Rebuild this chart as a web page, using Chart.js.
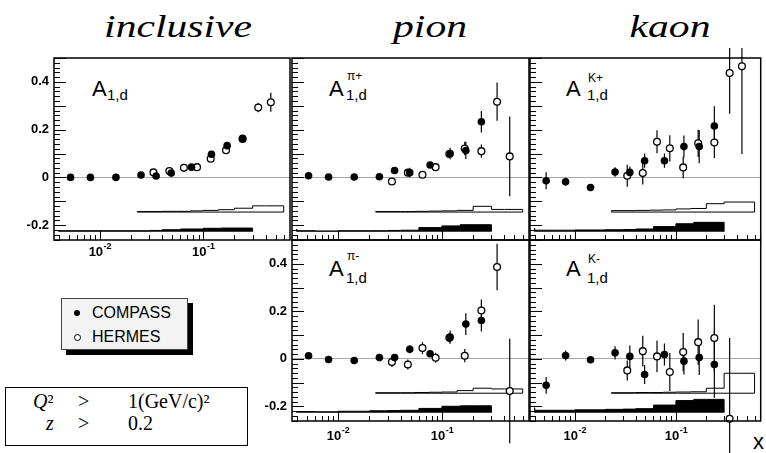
<!DOCTYPE html>
<html>
<head>
<meta charset="utf-8">
<script src="https://cdn.jsdelivr.net/npm/chart.js@4.4.1/dist/chart.umd.min.js"></script>
<style>
  html, body { margin: 0; padding: 0; background: #fff; }
  #page { position: relative; width: 766px; height: 453px; overflow: hidden; background: #fff; }
  #page canvas { position: absolute; left: 0; top: 0; }
  .t { position: absolute; white-space: nowrap; line-height: 1; color: #000; }
  .title { font: italic 32px "Liberation Serif", serif; transform: translateX(-50%) scaleX(1.3); }
  .sans { font-family: "Liberation Sans", Arial, sans-serif; }
  .serif { font-family: "Liberation Serif", serif; font-size: 20px; }
  .A { font-size: 22px; }
  .sub { font-size: 15px; }
  .sup { font-size: 12px; }
</style>
</head>
<body>
<div id="page">
  <div class="t title" style="left:178px;top:8px">inclusive</div>
  <div class="t title" style="left:430px;top:8px">pion</div>
  <div class="t title" style="left:670px;top:8px">kaon</div>

  <div class="t sans A" style="left:92px;top:78px">A</div>
  <div class="t sans sub" style="left:107px;top:87px">1,d</div>

  <div class="t sans A" style="left:329px;top:78px">A</div>
  <div class="t sans sup" style="left:347px;top:70px">π+</div>
  <div class="t sans sub" style="left:346px;top:87px">1,d</div>

  <div class="t sans A" style="left:566px;top:78px">A</div>
  <div class="t sans sup" style="left:588px;top:72px">K+</div>
  <div class="t sans sub" style="left:587px;top:87px">1,d</div>

  <div class="t sans A" style="left:329px;top:258px">A</div>
  <div class="t sans sup" style="left:347px;top:250px">π-</div>
  <div class="t sans sub" style="left:346px;top:270px">1,d</div>

  <div class="t sans A" style="left:566px;top:258px">A</div>
  <div class="t sans sup" style="left:588px;top:253px">K-</div>
  <div class="t sans sub" style="left:587px;top:270px">1,d</div>

  <div style="position:absolute;left:61px;top:298px;width:125px;height:50px;border:1px solid #444;background:#f3f3f3;box-shadow:5px 5px 0 #000"></div>
  <div style="position:absolute;left:74px;top:310px;width:6px;height:6px;border-radius:50%;background:#000"></div>
  <div style="position:absolute;left:73.5px;top:333.5px;width:5px;height:5px;border-radius:50%;border:1px solid #000;background:#fff"></div>
  <div class="t sans" style="left:92px;top:305px;font-size:16px">COMPASS</div>
  <div class="t sans" style="left:92px;top:329px;font-size:16px">HERMES</div>

  <div style="position:absolute;left:5px;top:387px;width:241px;height:57px;border:1.5px solid #000;background:#fff"></div>
  <div class="t serif" style="left:33px;top:391px"><i>Q</i>²</div>
  <div class="t serif" style="left:78px;top:391px">&gt;</div>
  <div class="t serif" style="left:128px;top:391px">1(GeV/c)²</div>
  <div class="t serif" style="left:46px;top:413px"><i>z</i></div>
  <div class="t serif" style="left:78px;top:413px">&gt;</div>
  <div class="t serif" style="left:128px;top:413px">0.2</div>

  <div class="t sans" style="left:753px;top:431px;font-size:22px">x</div>
</div>
<script>
// x positions of the bins
const xCompass = [0.0052, 0.0081, 0.0143, 0.025, 0.035, 0.049, 0.077, 0.12, 0.17, 0.24];
const xHermes = [0.033, 0.047, 0.065, 0.087, 0.118, 0.166, 0.24, 0.34, 0.45];
const xTickValues = [0.01, 0.1];
const xTickLabels = ['10^-2', '10^-1'];
const yTickValues = [-0.2, 0, 0.2, 0.4];
const yTickLabels = ['-0.2', '0', '0.2', '0.4'];

// inclusive
const compassIncl = [0.0, 0.0, 0.0, 0.01, 0.006, 0.018, 0.043, 0.097, 0.133, 0.164];
const compassInclErr = [0.003, 0.003, 0.003, 0.004, 0.004, 0.005, 0.005, 0.007, 0.008, 0.009];
const hermesIncl = [0.021, 0.027, 0.04, 0.043, 0.078, 0.114, 0.161, 0.293, 0.315];
const hermesInclErr = [0.004, 0.004, 0.004, 0.005, 0.006, 0.007, 0.009, 0.02, 0.04];

// pi+
const compassPip = [0.007, 0.002, 0.002, 0.003, 0.029, 0.02, 0.052, 0.1, 0.113, 0.233];
const compassPipErr = [0.006, 0.006, 0.006, 0.008, 0.01, 0.02, 0.014, 0.024, 0.036, 0.045];
const hermesPip = [-0.017, 0.02, 0.011, 0.043, 0.098, 0.121, 0.11, 0.317, 0.088];
const hermesPipErr = [0.012, 0.012, 0.012, 0.013, 0.018, 0.028, 0.028, 0.08, 0.167];

// pi-
const compassPim = [0.013, -0.003, -0.007, 0.005, 0.005, 0.04, 0.021, 0.091, 0.146, 0.161];
const compassPimErr = [0.006, 0.006, 0.006, 0.007, 0.01, 0.017, 0.013, 0.028, 0.046, 0.046];
const hermesPim = [-0.014, -0.024, 0.045, 0.004, 0.088, 0.013, 0.203, 0.386, -0.136];
const hermesPimErr = [0.021, 0.021, 0.025, 0.021, 0.02, 0.028, 0.046, 0.098, 0.22];

// K+
const compassKp = [-0.014, -0.018, -0.042, 0.023, 0.021, 0.07, 0.07, 0.129, 0.129, 0.215];
const compassKpErr = [0.036, 0.017, 0.01, 0.02, 0.025, 0.03, 0.03, 0.046, 0.07, 0.083];
const hermesKp = [0.007, 0.018, 0.149, 0.122, 0.042, 0.143, 0.146, 0.437, 0.465];
const hermesKpErr = [0.046, 0.048, 0.048, 0.055, 0.045, 0.057, 0.065, 0.17, 0.367];

// K-
const compassKm = [-0.112, 0.014, -0.004, 0.025, 0.01, -0.066, 0.018, -0.01, 0.005, -0.024];
const compassKmErr = [0.035, 0.021, 0.014, 0.028, 0.046, 0.04, 0.046, 0.056, 0.073, 0.14];
const hermesKm = [-0.049, 0.032, 0.01, -0.056, 0.028, 0.07, 0.087, -0.253];
const hermesKmErr = [0.042, 0.065, 0.067, 0.08, 0.08, 0.095, 0.14, 0.34];

// systematic bands (bin edges + heights above the band base)
const compassEdges = [0.004, 0.006, 0.01, 0.02, 0.03, 0.04, 0.06, 0.1, 0.15, 0.2, 0.3];
const hermesEdges = [0.023, 0.04, 0.055, 0.075, 0.1, 0.14, 0.2, 0.3, 0.4, 0.6];
const COMPASS_BASE = -0.227;
const HERMES_BASE = -0.145;
const sysCompassIncl = [0.005, 0.004, 0.004, 0.004, 0.004, 0.005, 0.008, 0.011, 0.014, 0.015];
const sysHermesIncl = [0.002, 0.002, 0.003, 0.003, 0.005, 0.007, 0.01, 0.016, 0.026];
const sysCompassPip = [0.01, 0.004, 0.003, 0.004, 0.004, 0.005, 0.006, 0.017, 0.024, 0.029];
const sysHermesPip = [0.002, 0.002, 0.002, 0.003, 0.004, 0.005, 0.007, 0.024, 0.011];
const sysCompassPim = [0.007, 0.005, 0.004, 0.006, 0.008, 0.009, 0.01, 0.018, 0.027, 0.029];
const sysHermesPim = [0.002, 0.002, 0.002, 0.003, 0.004, 0.005, 0.011, 0.021, 0.018];
const sysCompassKp = [0.014, 0.006, 0.006, 0.007, 0.008, 0.009, 0.011, 0.021, 0.033, 0.039];
const sysHermesKp = [0.003, 0.006, 0.007, 0.008, 0.009, 0.013, 0.015, 0.035, 0.042];
const sysCompassKm = [0.021, 0.01, 0.01, 0.012, 0.014, 0.015, 0.017, 0.032, 0.051, 0.056];
const sysHermesKm = [0.002, 0.002, 0.003, 0.003, 0.004, 0.005, 0.006, 0.021, 0.084];

const X_MIN = 0.0036, X_MAX = 0.69, Y_MIN = -0.262, Y_MAX = 0.5;

function pts(xs, ys) {
  return ys.map((y, i) => ({ x: xs[i], y: y }));
}

// histogram outline, stepped 'after'
function band(edges, heights, base, close) {
  const out = [{ x: edges[0], y: base }];
  heights.forEach((h, i) => out.push({ x: edges[i], y: base + h }));
  out.push({ x: edges[edges.length - 1], y: base + heights[heights.length - 1] });
  out.push({ x: edges[edges.length - 1], y: base });
  if (close) out.push({ x: edges[0], y: base });
  return out;
}

// ROOT-like frame, inner ticks, error bars and 10^n labels
const rootStyle = {
  id: 'rootStyle',
  beforeDatasetsDraw(chart) {
    const { ctx, chartArea: a, scales: { x, y } } = chart;
    ctx.save();
    ctx.beginPath();
    ctx.rect(a.left - 10, a.top - 10, a.right - a.left + 20, chart.height);
    ctx.clip();
    ctx.strokeStyle = '#000';
    ctx.lineWidth = 1.2;
    chart.data.datasets.forEach(ds => {
      if (!ds.errors) return;
      ds.data.forEach((p, i) => {
        const px = x.getPixelForValue(p.x);
        ctx.beginPath();
        ctx.moveTo(px, y.getPixelForValue(p.y - ds.errors[i]));
        ctx.lineTo(px, y.getPixelForValue(p.y + ds.errors[i]));
        ctx.stroke();
      });
    });
    ctx.restore();
  },
  afterDraw(chart, args, opts) {
    const { ctx, chartArea: a, scales: { x, y } } = chart;
    ctx.save();
    ctx.strokeStyle = '#000';
    ctx.lineWidth = 1;
    ctx.beginPath();
    for (let k = -3; k <= 0; k++) {
      for (let m = 1; m <= 9; m++) {
        const v = m * Math.pow(10, k);
        if (v < X_MIN || v > X_MAX) continue;
        const px = Math.round(x.getPixelForValue(v)) + 0.5;
        ctx.moveTo(px, a.bottom);
        ctx.lineTo(px, a.bottom - (m === 1 ? 9 : 5));
      }
    }
    for (let n = -13; n <= 25; n++) {
      const v = n * 0.02;
      if (v < Y_MIN || v > Y_MAX) continue;
      const py = Math.round(y.getPixelForValue(v)) + 0.5;
      ctx.moveTo(a.left, py);
      ctx.lineTo(a.left + (n % 5 === 0 ? 12 : 6), py);
    }
    ctx.stroke();
    ctx.lineWidth = 1.5;
    ctx.strokeRect(a.left, a.top, a.right - a.left, a.bottom - a.top);

    if (opts.labelGap) {
      const baseline = a.bottom + opts.labelGap;
      ctx.fillStyle = '#000';
      ctx.textBaseline = 'alphabetic';
      ctx.textAlign = 'left';
      xTickValues.forEach((v, i) => {
        const [mant, exp] = xTickLabels[i].split('^');
        ctx.font = 'bold 13px "Liberation Sans"';
        const w1 = ctx.measureText(mant).width;
        ctx.font = 'bold 9px "Liberation Sans"';
        const w2 = ctx.measureText(exp).width;
        const x0 = x.getPixelForValue(v) - (w1 + w2) / 2;
        ctx.fillText(exp, x0 + w1 + 0.5, baseline - 7);
        ctx.font = 'bold 13px "Liberation Sans"';
        ctx.fillText(mant, x0, baseline);
      });
    }
    ctx.restore();
  }
};

const tickFont = { family: 'Liberation Sans', size: 13, weight: 'bold' };

function makePanel(p) {
  const canvas = document.createElement('canvas');
  canvas.width = 766;
  canvas.height = 453;
  document.getElementById('page').appendChild(canvas);
  const [l, t, r, b] = p.area;
  return new Chart(canvas, {
    type: 'scatter',
    data: {
      datasets: [
        {
          label: 'COMPASS', data: pts(xCompass, p.compass), errors: p.compassErr,
          pointRadius: 3.8, pointBackgroundColor: '#000', pointBorderColor: '#000', pointBorderWidth: 0, clip: 8
        },
        {
          label: 'HERMES', data: pts(xHermes, p.hermes), errors: p.hermesErr,
          pointRadius: 3.4, pointBackgroundColor: '#fff', pointBorderColor: '#000', pointBorderWidth: 1.3, clip: 8
        },
        {
          type: 'line', label: 'COMPASS syst.', data: band(compassEdges, p.sysCompass, COMPASS_BASE, false),
          stepped: 'after', borderColor: '#000', borderWidth: 1, backgroundColor: '#000',
          fill: { value: COMPASS_BASE }, pointRadius: 0
        },
        {
          type: 'line', label: 'HERMES syst.', data: band(hermesEdges, p.sysHermes, HERMES_BASE, true),
          stepped: 'after', borderColor: '#000', borderWidth: 1, fill: false, pointRadius: 0
        }
      ]
    },
    options: {
      responsive: false,
      animation: false,
      devicePixelRatio: 1,
      layout: { padding: { left: 0, top: t, right: 766 - r, bottom: 0 } },
      plugins: {
        legend: { display: false },
        tooltip: { enabled: false },
        rootStyle: { labelGap: p.labelGap }
      },
      scales: {
        x: {
          type: 'logarithmic', min: X_MIN, max: X_MAX,
          afterFit: s => { s.height = 453 - b; },
          afterBuildTicks: s => { s.ticks = xTickValues.map(v => ({ value: v })); },
          ticks: { display: false },
          grid: { display: false },
          border: { display: false }
        },
        y: {
          min: Y_MIN, max: Y_MAX,
          afterFit: s => { s.width = l; },
          afterBuildTicks: s => { s.ticks = yTickValues.map(v => ({ value: v })); },
          ticks: {
            display: p.showY, padding: 5, color: '#000', font: tickFont,
            callback: (v, i) => yTickLabels[i]
          },
          grid: {
            drawTicks: false,
            color: c => (c.tick && c.tick.value === 0 ? '#a8a8a8' : 'rgba(0,0,0,0)'),
            lineWidth: 1
          },
          border: { display: false }
        }
      }
    },
    plugins: [rootStyle]
  });
}

const panels = [
  { area: [54, 58, 290, 240], showY: true, labelGap: 16,
    compass: compassIncl, compassErr: compassInclErr, hermes: hermesIncl, hermesErr: hermesInclErr,
    sysCompass: sysCompassIncl, sysHermes: sysHermesIncl },
  { area: [292, 58, 529, 240], showY: false, labelGap: 0,
    compass: compassPip, compassErr: compassPipErr, hermes: hermesPip, hermesErr: hermesPipErr,
    sysCompass: sysCompassPip, sysHermes: sysHermesPip },
  { area: [530, 58, 764, 240], showY: false, labelGap: 0,
    compass: compassKp, compassErr: compassKpErr, hermes: hermesKp, hermesErr: hermesKpErr,
    sysCompass: sysCompassKp, sysHermes: sysHermesKp },
  { area: [292, 240, 529, 421], showY: true, labelGap: 19,
    compass: compassPim, compassErr: compassPimErr, hermes: hermesPim, hermesErr: hermesPimErr,
    sysCompass: sysCompassPim, sysHermes: sysHermesPim },
  { area: [530, 240, 764, 421], showY: false, labelGap: 19,
    compass: compassKm, compassErr: compassKmErr, hermes: hermesKm, hermesErr: hermesKmErr,
    sysCompass: sysCompassKm, sysHermes: sysHermesKm }
];

panels.forEach(makePanel);
</script>
</body>
</html>
